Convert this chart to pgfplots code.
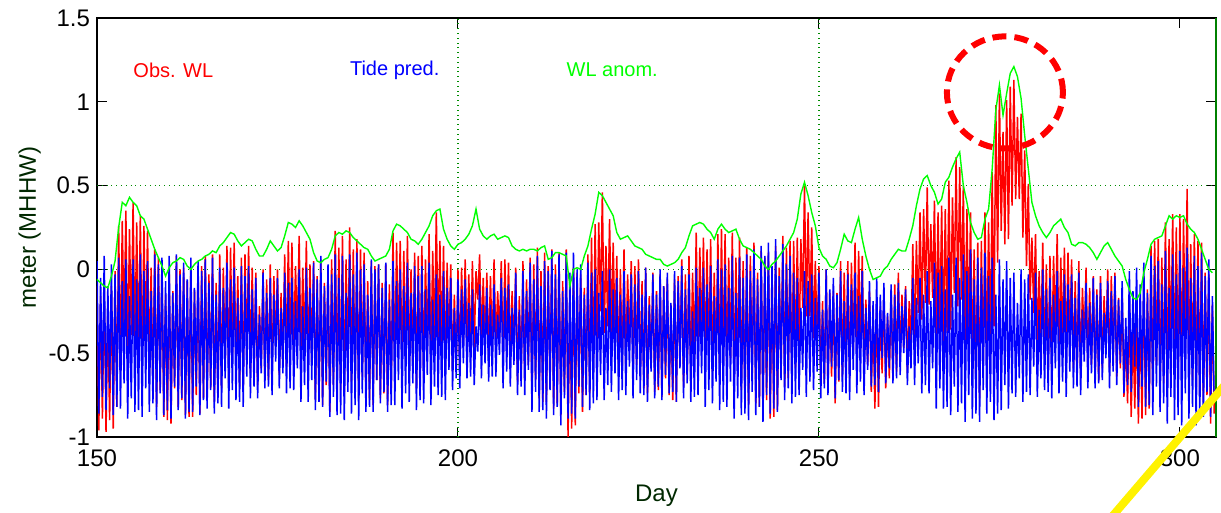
\documentclass[border=0pt]{standalone}
\usepackage{pgfplots}
\pgfplotsset{compat=1.18}
\usepackage{pgfplotstable}
\usepackage{fontspec}
\setmainfont{Liberation Sans}
\definecolor{obsred}{RGB}{255,0,0}
\definecolor{tideblue}{RGB}{0,0,255}
\definecolor{anomgreen}{RGB}{0,255,0}
\definecolor{gridgreen}{RGB}{0,140,0}
\definecolor{framegreen}{RGB}{0,128,0}
\definecolor{labgreen}{RGB}{0,40,0}
\begin{document}
\pgfplotstableread[row sep=\\]{
b r\\
0.05 -0.10\\ -0.86 -0.96\\ -0.05 -0.16\\ -0.76 -0.89\\
0.08 -0.08\\ -0.84 -0.97\\ -0.10 -0.25\\ -0.71 -0.90\\
0.03 -0.10\\ -0.87 -0.95\\ -0.03 -0.01\\ -0.82 -0.82\\
0.07 0.26\\ -0.83 -0.61\\ -0.07 0.29\\ -0.68 -0.36\\
0.06 0.35\\ -0.89 -0.55\\ -0.16 0.24\\ -0.77 -0.39\\
0.06 0.40\\ -0.85 -0.48\\ -0.06 0.28\\ -0.84 -0.54\\
0.09 0.32\\ -0.88 -0.60\\ -0.01 0.26\\ -0.71 -0.46\\
0.05 0.23\\ -0.85 -0.64\\ -0.13 0.01\\ -0.80 -0.70\\
0.09 0.12\\ -0.90 -0.82\\ 0.03 0.07\\ -0.74 -0.72\\
0.07 0.03\\ -0.87 -0.88\\ -0.07 -0.15\\ -0.84 -0.90\\
0.08 0.00\\ -0.89 -0.92\\ -0.14 -0.13\\ -0.70 -0.71\\
0.09 0.08\\ -0.84 -0.82\\ -0.03 0.00\\ -0.77 -0.78\\
0.04 0.01\\ -0.89 -0.87\\ -0.06 -0.07\\ -0.85 -0.88\\
0.07 0.01\\ -0.85 -0.88\\ -0.11 -0.12\\ -0.70 -0.75\\
0.05 0.01\\ -0.87 -0.86\\ -0.01 0.02\\ -0.78 -0.77\\
0.06 0.08\\ -0.83 -0.78\\ -0.08 -0.03\\ -0.72 -0.71\\
0.07 0.09\\ -0.86 -0.79\\ -0.15 -0.08\\ -0.80 -0.75\\
0.01 0.09\\ -0.82 -0.71\\ -0.11 0.01\\ -0.65 -0.57\\
0.04 0.14\\ -0.83 -0.68\\ -0.06 0.13\\ -0.72 -0.55\\
0.01 0.16\\ -0.78 -0.60\\ -0.17 -0.04\\ -0.79 -0.70\\
0.02 0.07\\ -0.82 -0.72\\ -0.04 0.09\\ -0.64 -0.53\\
0.02 0.14\\ -0.77 -0.62\\ -0.12 0.01\\ -0.70 -0.61\\
-0.05 -0.02\\ -0.77 -0.69\\ -0.27 -0.22\\ -0.62 -0.59\\
-0.02 0.00\\ -0.71 -0.66\\ -0.14 -0.06\\ -0.70 -0.66\\
-0.05 0.03\\ -0.75 -0.62\\ -0.15 -0.04\\ -0.55 -0.46\\
-0.05 0.00\\ -0.71 -0.63\\ -0.23 -0.14\\ -0.62 -0.57\\
-0.02 0.09\\ -0.74 -0.58\\ -0.08 0.17\\ -0.71 -0.48\\
-0.05 0.16\\ -0.72 -0.48\\ -0.19 0.02\\ -0.59 -0.42\\
0.00 0.20\\ -0.79 -0.54\\ -0.22 0.01\\ -0.69 -0.48\\
0.01 0.17\\ -0.79 -0.60\\ -0.11 0.03\\ -0.66 -0.56\\
0.04 0.05\\ -0.84 -0.78\\ -0.06 -0.04\\ -0.79 -0.79\\
0.08 0.06\\ -0.82 -0.81\\ -0.10 -0.08\\ -0.67 -0.69\\
0.03 0.01\\ -0.88 -0.85\\ -0.03 0.06\\ -0.76 -0.69\\
0.09 0.23\\ -0.87 -0.70\\ -0.05 0.13\\ -0.86 -0.72\\
0.08 0.20\\ -0.90 -0.73\\ -0.14 0.06\\ -0.73 -0.55\\
0.09 0.25\\ -0.86 -0.67\\ -0.03 0.12\\ -0.81 -0.70\\
0.10 0.18\\ -0.90 -0.77\\ 0.00 0.12\\ -0.74 -0.64\\
0.03 0.10\\ -0.85 -0.75\\ -0.15 -0.07\\ -0.82 -0.78\\
0.06 0.05\\ -0.85 -0.81\\ 0.00 0.02\\ -0.66 -0.66\\
0.03 0.03\\ -0.80 -0.77\\ -0.11 -0.08\\ -0.73 -0.74\\
0.04 0.03\\ -0.85 -0.81\\ -0.18 -0.09\\ -0.81 -0.74\\
0.05 0.22\\ -0.81 -0.61\\ -0.07 0.16\\ -0.66 -0.47\\
0.00 0.17\\ -0.83 -0.61\\ -0.10 0.11\\ -0.74 -0.55\\
0.04 0.20\\ -0.79 -0.60\\ -0.14 0.00\\ -0.68 -0.58\\
0.02 0.10\\ -0.84 -0.71\\ -0.04 0.08\\ -0.78 -0.68\\
0.02 0.14\\ -0.80 -0.65\\ -0.12 0.06\\ -0.63 -0.49\\
0.04 0.21\\ -0.81 -0.59\\ -0.18 0.11\\ -0.70 -0.43\\
-0.03 0.34\\ -0.75 -0.43\\ -0.15 0.17\\ -0.76 -0.48\\
-0.01 0.14\\ -0.78 -0.58\\ -0.11 0.04\\ -0.60 -0.47\\
-0.05 0.03\\ -0.72 -0.61\\ -0.23 -0.15\\ -0.65 -0.61\\
-0.06 0.00\\ -0.71 -0.60\\ -0.12 0.01\\ -0.56 -0.45\\
-0.06 0.06\\ -0.65 -0.50\\ -0.20 -0.03\\ -0.64 -0.51\\
-0.12 0.05\\ -0.69 -0.47\\ -0.34 -0.01\\ -0.49 -0.18\\
-0.09 0.09\\ -0.65 -0.44\\ -0.21 -0.05\\ -0.56 -0.44\\
-0.11 -0.02\\ -0.67 -0.53\\ -0.21 -0.04\\ -0.64 -0.49\\
-0.09 0.06\\ -0.64 -0.46\\ -0.27 -0.13\\ -0.51 -0.41\\
-0.05 0.05\\ -0.71 -0.56\\ -0.11 0.06\\ -0.61 -0.46\\
-0.09 0.04\\ -0.70 -0.54\\ -0.23 -0.13\\ -0.57 -0.51\\
-0.02 0.01\\ -0.75 -0.67\\ -0.24 -0.16\\ -0.70 -0.64\\
-0.01 0.05\\ -0.75 -0.66\\ -0.13 -0.06\\ -0.60 -0.57\\
0.04 0.07\\ -0.85 -0.77\\ -0.06 0.03\\ -0.73 -0.66\\
0.08 0.13\\ -0.85 -0.77\\ -0.10 -0.01\\ -0.84 -0.79\\
0.05 0.10\\ -0.89 -0.79\\ -0.01 0.02\\ -0.72 -0.71\\
0.11 0.12\\ -0.87 -0.83\\ -0.03 0.03\\ -0.82 -0.80\\
0.09 0.10\\ -0.93 -0.87\\ -0.13 -0.07\\ -0.77 -0.73\\
0.10 0.12\\ -0.89 -1.00\\ -0.02 -0.16\\ -0.86 -0.95\\
0.10 0.01\\ -0.89 -0.93\\ 0.00 -0.02\\ -0.70 -0.74\\
0.03 -0.03\\ -0.82 -0.85\\ -0.15 -0.11\\ -0.75 -0.75\\
0.04 0.09\\ -0.84 -0.74\\ -0.02 0.19\\ -0.80 -0.61\\
0.00 0.27\\ -0.78 -0.48\\ -0.14 0.28\\ -0.63 -0.25\\
-0.01 0.46\\ -0.78 -0.38\\ -0.23 0.14\\ -0.69 -0.34\\
0.00 0.30\\ -0.73 -0.40\\ -0.12 0.16\\ -0.62 -0.38\\
-0.05 0.08\\ -0.78 -0.60\\ -0.15 0.00\\ -0.72 -0.59\\
-0.01 0.12\\ -0.75 -0.59\\ -0.19 -0.03\\ -0.58 -0.46\\
-0.03 0.05\\ -0.77 -0.64\\ -0.09 0.02\\ -0.66 -0.57\\
-0.01 0.06\\ -0.74 -0.64\\ -0.15 -0.07\\ -0.75 -0.71\\
0.01 0.01\\ -0.79 -0.74\\ -0.21 -0.16\\ -0.61 -0.58\\
-0.03 -0.02\\ -0.77 -0.73\\ -0.15 -0.13\\ -0.70 -0.72\\
0.00 -0.03\\ -0.78 -0.76\\ -0.10 -0.10\\ -0.63 -0.65\\
-0.02 -0.06\\ -0.74 -0.75\\ -0.20 -0.21\\ -0.73 -0.78\\
-0.01 -0.06\\ -0.79 -0.79\\ -0.07 -0.04\\ -0.59 -0.58\\
0.02 0.06\\ -0.77 -0.70\\ -0.12 -0.03\\ -0.68 -0.63\\
-0.03 0.08\\ -0.79 -0.63\\ -0.25 -0.02\\ -0.76 -0.55\\
0.01 0.22\\ -0.75 -0.51\\ -0.11 0.13\\ -0.62 -0.42\\
0.01 0.19\\ -0.82 -0.59\\ -0.09 0.12\\ -0.72 -0.53\\
0.02 0.18\\ -0.80 -0.61\\ -0.16 -0.02\\ -0.67 -0.57\\
0.06 0.21\\ -0.84 -0.64\\ 0.00 0.24\\ -0.79 -0.57\\
0.03 0.21\\ -0.82 -0.61\\ -0.11 0.07\\ -0.67 -0.53\\
0.08 0.22\\ -0.89 -0.70\\ -0.14 0.07\\ -0.77 -0.58\\
0.07 0.19\\ -0.87 -0.72\\ -0.05 0.05\\ -0.86 -0.80\\
0.09 0.13\\ -0.90 -0.81\\ -0.01 0.08\\ -0.73 -0.66\\
0.12 0.16\\ -0.87 -0.80\\ -0.06 -0.02\\ -0.82 -0.82\\
0.14 0.11\\ -0.91 -0.89\\ 0.08 0.07\\ -0.75 -0.78\\
0.16 0.10\\ -0.86 -0.89\\ 0.02 0.01\\ -0.83 -0.88\\
0.18 0.14\\ -0.85 -0.84\\ -0.04 0.01\\ -0.66 -0.63\\
0.15 0.20\\ -0.78 -0.70\\ 0.03 0.13\\ -0.71 -0.65\\
0.08 0.17\\ -0.80 -0.66\\ -0.02 0.17\\ -0.76 -0.59\\
-0.05 0.19\\ -0.75 -0.48\\ -0.23 0.18\\ -0.60 -0.23\\
-0.01 0.50\\ -0.76 -0.28\\ -0.07 0.34\\ -0.67 -0.28\\
-0.03 0.25\\ -0.72 -0.41\\ -0.17 0.05\\ -0.61 -0.43\\
-0.02 0.02\\ -0.77 -0.68\\ -0.24 -0.19\\ -0.71 -0.68\\
0.00 0.00\\ -0.75 -0.72\\ -0.12 -0.14\\ -0.58 -0.64\\
-0.05 -0.13\\ -0.77 -0.80\\ -0.15 -0.14\\ -0.66 -0.67\\
-0.01 0.05\\ -0.73 -0.64\\ -0.19 -0.02\\ -0.74 -0.61\\
-0.03 0.05\\ -0.78 -0.65\\ -0.09 0.04\\ -0.60 -0.49\\
-0.02 0.16\\ -0.74 -0.53\\ -0.16 0.11\\ -0.67 -0.44\\
-0.01 0.08\\ -0.75 -0.61\\ -0.23 -0.18\\ -0.60 -0.57\\
-0.07 -0.13\\ -0.70 -0.73\\ -0.19 -0.29\\ -0.69 -0.83\\
-0.05 -0.19\\ -0.73 -0.82\\ -0.15 -0.22\\ -0.53 -0.62\\
-0.08 -0.14\\ -0.68 -0.71\\ -0.26 -0.28\\ -0.59 -0.65\\
-0.09 -0.12\\ -0.68 -0.66\\ -0.15 -0.09\\ -0.65 -0.61\\
-0.08 -0.02\\ -0.63 -0.54\\ -0.22 -0.15\\ -0.50 -0.47\\
-0.12 -0.10\\ -0.69 -0.62\\ -0.34 -0.19\\ -0.59 -0.46\\
-0.05 0.15\\ -0.69 -0.46\\ -0.17 0.17\\ -0.56 -0.26\\
-0.05 0.34\\ -0.74 -0.30\\ -0.15 0.36\\ -0.69 -0.20\\
-0.01 0.49\\ -0.74 -0.21\\ -0.19 0.27\\ -0.59 -0.17\\
0.04 0.41\\ -0.83 -0.41\\ -0.02 0.34\\ -0.71 -0.37\\
0.02 0.38\\ -0.83 -0.44\\ -0.12 0.36\\ -0.82 -0.38\\
0.07 0.53\\ -0.87 -0.36\\ -0.15 0.43\\ -0.70 -0.14\\
0.07 0.67\\ -0.85 -0.22\\ -0.05 0.61\\ -0.80 -0.18\\
0.09 0.50\\ -0.91 -0.45\\ -0.01 0.36\\ -0.75 -0.40\\
0.12 0.34\\ -0.89 -0.64\\ -0.06 0.12\\ -0.86 -0.72\\
0.07 0.16\\ -0.91 -0.77\\ 0.01 0.17\\ -0.72 -0.58\\
0.10 0.34\\ -0.86 -0.59\\ -0.04 0.28\\ -0.79 -0.51\\
0.07 0.58\\ -0.90 -0.34\\ -0.15 0.98\\ -0.86 0.04\\
0.06 1.05\\ -0.84 0.23\\ -0.06 0.82\\ -0.69 0.15\\
0.05 1.01\\ -0.83 0.18\\ -0.05 1.09\\ -0.74 0.38\\
-0.02 1.13\\ -0.76 0.42\\ -0.20 0.91\\ -0.65 0.42\\
0.00 0.93\\ -0.79 0.19\\ -0.06 0.71\\ -0.73 0.02\\
-0.03 0.51\\ -0.75 -0.18\\ -0.17 0.19\\ -0.58 -0.26\\
-0.02 0.21\\ -0.76 -0.48\\ -0.24 -0.01\\ -0.65 -0.44\\
0.00 0.16\\ -0.72 -0.53\\ -0.12 0.03\\ -0.73 -0.62\\
-0.05 0.08\\ -0.77 -0.59\\ -0.15 0.08\\ -0.59 -0.38\\
-0.01 0.21\\ -0.74 -0.49\\ -0.19 0.07\\ -0.67 -0.45\\
-0.03 0.13\\ -0.76 -0.55\\ -0.09 0.10\\ -0.61 -0.44\\
-0.03 0.06\\ -0.71 -0.59\\ -0.17 -0.07\\ -0.70 -0.64\\
-0.02 0.05\\ -0.75 -0.63\\ -0.24 -0.11\\ -0.55 -0.44\\
-0.08 0.01\\ -0.71 -0.59\\ -0.20 -0.11\\ -0.62 -0.57\\
-0.05 -0.04\\ -0.71 -0.65\\ -0.15 -0.12\\ -0.68 -0.67\\
-0.08 -0.04\\ -0.66 -0.59\\ -0.26 -0.16\\ -0.53 -0.47\\
-0.07 0.00\\ -0.71 -0.59\\ -0.13 -0.04\\ -0.61 -0.54\\
-0.04 -0.02\\ -0.69 -0.64\\ -0.18 -0.17\\ -0.56 -0.59\\
-0.07 -0.14\\ -0.74 -0.76\\ -0.29 -0.38\\ -0.69 -0.80\\
-0.01 -0.19\\ -0.73 -0.88\\ -0.13 -0.34\\ -0.58 -0.83\\
0.01 -0.26\\ -0.82 -0.92\\ -0.09 -0.26\\ -0.70 -0.89\\
0.04 -0.04\\ -0.82 -0.87\\ -0.14 -0.12\\ -0.81 -0.83\\
0.08 0.14\\ -0.87 -0.76\\ 0.02 0.17\\ -0.70 -0.57\\
0.05 0.18\\ -0.85 -0.69\\ -0.09 0.07\\ -0.80 -0.68\\
0.11 0.28\\ -0.92 -0.70\\ -0.11 0.18\\ -0.76 -0.49\\
0.09 0.33\\ -0.90 -0.63\\ -0.03 0.25\\ -0.87 -0.63\\
0.11 0.33\\ -0.93 -0.66\\ 0.01 0.30\\ -0.74 -0.47\\
0.13 0.48\\ -0.89 -0.65\\ -0.05 0.15\\ -0.82 -0.66\\
0.08 0.21\\ -0.93 -0.75\\ 0.02 0.17\\ -0.89 -0.76\\
0.10 0.16\\ -0.88 -0.79\\ -0.04 -0.02\\ -0.73 -0.75\\
0.06 -0.03\\ -0.88 -0.92\\ -0.16 -0.21\\ -0.79 -0.86\\
}\wl
\pgfplotstableread[row sep=\\]{
g\\
-0.06\\ -0.08\\ -0.10\\ -0.11\\ -0.04\\ 0.05\\ 0.25\\ 0.40\\ 0.38\\ 0.43\\
0.40\\ 0.38\\ 0.32\\ 0.30\\ 0.24\\ 0.18\\ 0.12\\ 0.07\\ 0.02\\ -0.04\\
0.01\\ 0.04\\ 0.05\\ 0.07\\ 0.06\\ 0.02\\ 0.00\\ 0.03\\ 0.05\\ 0.06\\
0.08\\ 0.09\\ 0.11\\ 0.10\\ 0.14\\ 0.16\\ 0.19\\ 0.22\\ 0.21\\ 0.17\\
0.14\\ 0.16\\ 0.18\\ 0.17\\ 0.12\\ 0.08\\ 0.08\\ 0.12\\ 0.17\\ 0.14\\
0.11\\ 0.13\\ 0.20\\ 0.28\\ 0.27\\ 0.25\\ 0.29\\ 0.26\\ 0.22\\ 0.18\\
0.10\\ 0.05\\ 0.04\\ 0.06\\ 0.07\\ 0.12\\ 0.20\\ 0.22\\ 0.21\\ 0.23\\
0.22\\ 0.19\\ 0.17\\ 0.15\\ 0.13\\ 0.12\\ 0.08\\ 0.05\\ 0.06\\ 0.07\\
0.08\\ 0.12\\ 0.23\\ 0.27\\ 0.26\\ 0.24\\ 0.22\\ 0.18\\ 0.17\\ 0.15\\
0.18\\ 0.22\\ 0.26\\ 0.32\\ 0.35\\ 0.36\\ 0.24\\ 0.18\\ 0.14\\ 0.12\\
0.15\\ 0.16\\ 0.18\\ 0.21\\ 0.26\\ 0.36\\ 0.24\\ 0.20\\ 0.18\\ 0.20\\
0.21\\ 0.18\\ 0.19\\ 0.20\\ 0.19\\ 0.14\\ 0.12\\ 0.11\\ 0.12\\ 0.11\\
0.12\\ 0.12\\ 0.11\\ 0.13\\ 0.14\\ 0.06\\ 0.07\\ 0.10\\ 0.10\\ 0.09\\
0.08\\ -0.10\\ 0.00\\ 0.01\\ 0.00\\ 0.08\\ 0.14\\ 0.24\\ 0.33\\ 0.46\\
0.44\\ 0.40\\ 0.36\\ 0.32\\ 0.22\\ 0.18\\ 0.19\\ 0.20\\ 0.17\\ 0.14\\
0.13\\ 0.12\\ 0.09\\ 0.08\\ 0.07\\ 0.06\\ 0.06\\ 0.03\\ 0.02\\ 0.03\\
0.04\\ 0.06\\ 0.10\\ 0.13\\ 0.20\\ 0.26\\ 0.27\\ 0.28\\ 0.27\\ 0.24\\
0.22\\ 0.18\\ 0.24\\ 0.27\\ 0.24\\ 0.22\\ 0.23\\ 0.24\\ 0.18\\ 0.14\\
0.13\\ 0.12\\ 0.10\\ 0.08\\ 0.06\\ 0.02\\ 0.00\\ 0.03\\ 0.05\\ 0.08\\
0.11\\ 0.14\\ 0.18\\ 0.22\\ 0.30\\ 0.45\\ 0.52\\ 0.44\\ 0.34\\ 0.26\\
0.13\\ 0.08\\ 0.06\\ 0.02\\ 0.01\\ 0.04\\ 0.12\\ 0.21\\ 0.17\\ 0.16\\
0.24\\ 0.31\\ 0.18\\ 0.08\\ 0.00\\ -0.06\\ -0.05\\ -0.04\\ 0.00\\ 0.02\\
0.06\\ 0.09\\ 0.12\\ 0.11\\ 0.11\\ 0.18\\ 0.26\\ 0.38\\ 0.48\\ 0.54\\
0.56\\ 0.50\\ 0.46\\ 0.39\\ 0.42\\ 0.52\\ 0.55\\ 0.61\\ 0.66\\ 0.70\\
0.50\\ 0.40\\ 0.28\\ 0.22\\ 0.18\\ 0.19\\ 0.30\\ 0.36\\ 0.60\\ 0.95\\
1.10\\ 0.92\\ 1.05\\ 1.17\\ 1.21\\ 1.15\\ 1.02\\ 0.80\\ 0.60\\ 0.40\\
0.32\\ 0.26\\ 0.22\\ 0.19\\ 0.22\\ 0.26\\ 0.28\\ 0.30\\ 0.25\\ 0.22\\
0.15\\ 0.14\\ 0.16\\ 0.16\\ 0.15\\ 0.13\\ 0.10\\ 0.06\\ 0.10\\ 0.14\\
0.16\\ 0.12\\ 0.08\\ 0.05\\ 0.02\\ -0.06\\ -0.12\\ -0.17\\ -0.18\\ -0.14\\
-0.02\\ 0.06\\ 0.15\\ 0.18\\ 0.19\\ 0.20\\ 0.26\\ 0.32\\ 0.30\\ 0.32\\
0.31\\ 0.32\\ 0.27\\ 0.24\\ 0.22\\ 0.18\\ 0.12\\ 0.06\\ 0.00\\ -0.02\\
}\anom
\begin{tikzpicture}
\begin{axis}[
  scale only axis, width=559.5pt, height=209.5pt,
  xmin=150, xmax=305, ymin=-1, ymax=1.5,
  xtick={150,200,250,300}, ytick={-1,-0.5,0,0.5,1,1.5},
  tick align=inside, major tick length=5pt,
  tick style={black, line width=0.5pt},
  axis line style={black, line width=0.6pt},
  /pgf/number format/assume math mode=true,
  tick label style={font=\fontsize{12}{14}\selectfont, text=black},
  xticklabel style={yshift=-3pt},
  xlabel={Day}, ylabel={meter (MHHW)},
  label style={font=\fontsize{12}{14}\selectfont, text=labgreen},
  xlabel style={yshift=-2pt},
  ylabel style={yshift=-3pt},
  extra x ticks={200,250}, extra y ticks={0,0.5},
  extra x tick labels={,}, extra y tick labels={,},
  extra tick style={grid=major, major tick length=0pt,
    major grid style={dotted, line width=0.6pt, color=gridgreen}},
]
\addplot[obsred, line width=0.75pt] table[x expr=150+0.25*\coordindex, y=r] {\wl};
\addplot[tideblue, line width=0.75pt] table[x expr=150+0.25*\coordindex, y=b] {\wl};
\addplot[anomgreen, line width=0.7pt] table[x expr=150+0.5*\coordindex, y=g] {\anom};
\node[anchor=west, text=obsred, font=\fontsize{10}{12}\selectfont, inner sep=0pt] at (axis cs:155,1.19) {Obs. WL};
\node[anchor=west, text=tideblue, font=\fontsize{10}{12}\selectfont, inner sep=0pt] at (axis cs:185,1.19) {Tide pred.};
\node[anchor=west, text=anomgreen, font=\fontsize{10}{12}\selectfont, inner sep=0pt] at (axis cs:215,1.19) {WL anom.};
\draw[obsred, line width=3pt, dash pattern=on 7pt off 4pt] (axis cs:275.76,1.056) ellipse [x radius=29pt, y radius=28pt];
\coordinate (yA) at (axis cs:308.6,-0.57);
\coordinate (yB) at (axis cs:288.1,-1.6);
\end{axis}
\draw[framegreen, line width=0.6pt] (current axis.south east) -- (current axis.north east);
\draw[yellow, line width=4pt] (yA) -- (yB);
\pgfresetboundingbox
\path[use as bounding box] ([xshift=-48.5pt,yshift=-38pt]current axis.south west) rectangle ([xshift=2.5pt,yshift=9pt]current axis.north east);
\end{tikzpicture}
\end{document}
